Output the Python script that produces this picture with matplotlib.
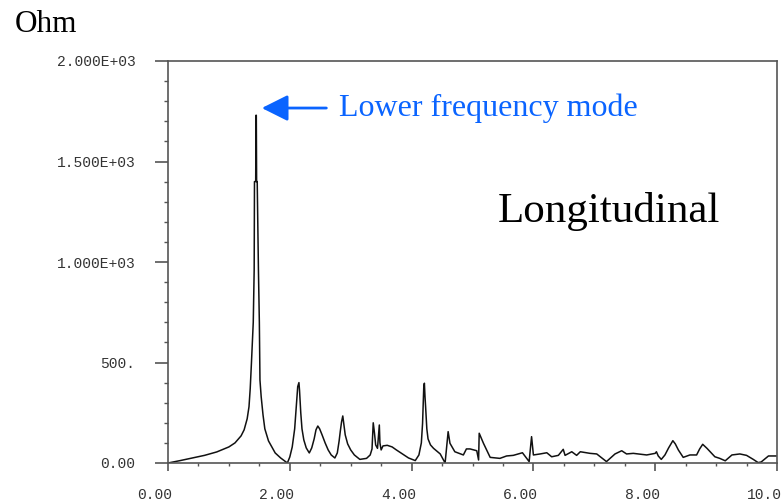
"""Longitudinal impedance spectrum (Ohm vs frequency) with the lowest mode marked."""

import matplotlib

matplotlib.use("Agg")
import matplotlib.pyplot as plt  # noqa: E402
import matplotlib.transforms as mtransforms  # noqa: E402
from matplotlib.ticker import MultipleLocator  # noqa: E402

BLUE = "#0a64ff"
AXIS = "#555555"
MONO = "Liberation Mono"
SERIF = "Liberation Serif"

# traced impedance curve (frequency, Ohm)
freq = [
    0.00, 0.20, 0.40, 0.60, 0.80, 1.00, 1.10, 1.20, 1.25, 1.30, 1.33, 1.35, 1.37, 1.40,
    1.415, 1.42, 1.44, 1.445, 1.45, 1.455, 1.465, 1.485, 1.50, 1.51, 1.53, 1.56, 1.59,
    1.65, 1.76, 1.85, 1.96,
    2.00, 2.04, 2.08, 2.11, 2.13, 2.15, 2.16, 2.18, 2.20, 2.23, 2.27, 2.32,
    2.36, 2.40, 2.43, 2.46, 2.49, 2.53, 2.58, 2.63, 2.68, 2.74,
    2.78, 2.81, 2.83, 2.85, 2.87, 2.88, 2.91, 2.95, 3.00, 3.06, 3.15, 3.26, 3.32, 3.35,
    3.37, 3.39, 3.41, 3.44, 3.47, 3.48, 3.50, 3.53, 3.60, 3.68, 3.75, 3.85, 3.95, 4.06,
    4.12, 4.16, 4.18, 4.20, 4.21, 4.22, 4.23, 4.25, 4.27, 4.31, 4.36, 4.47, 4.55,
    4.60, 4.63, 4.71, 4.85, 4.90, 4.96, 5.07, 5.10, 5.11, 5.18, 5.29, 5.45, 5.56, 5.67,
    5.82, 5.93, 5.97, 6.00, 6.11, 6.22, 6.30, 6.41, 6.49, 6.52, 6.63, 6.71, 6.77, 6.93,
    7.04, 7.20, 7.34, 7.45, 7.53, 7.64, 7.86, 8.00, 8.02, 8.05, 8.10, 8.16, 8.22, 8.29,
    8.33, 8.38, 8.46, 8.57, 8.68, 8.73, 8.78, 8.85, 8.98, 9.06, 9.15, 9.26, 9.39, 9.50,
    9.61, 9.69, 9.74, 9.86, 10.00,
]
ohm = [
    0, 12, 25, 38, 55, 80, 100, 135, 165, 220, 280, 370, 497, 700,
    960, 1400, 1400, 1730, 1730, 1400, 1400, 960, 700, 413, 330, 240, 170,
    110, 50, 25, 0,
    30, 80, 170, 300, 380, 400, 360, 250, 170, 115, 75, 50,
    75, 120, 165, 184, 170, 140, 100, 65, 40, 25,
    50, 110, 160, 205, 234, 210, 140, 95, 65, 40, 18, 23, 40, 70,
    200, 150, 90, 73, 189, 100, 65, 85, 88, 80, 65, 45, 25, 12,
    40, 100, 197, 380, 397, 330, 280, 170, 120, 90, 73, 45, 0,
    156, 98, 56, 40, 70, 70, 61, 15, 148, 98, 28, 23, 35, 38,
    51, 7, 131, 40, 45, 51, 31, 38, 68, 38, 56, 38, 56, 48,
    45, 7, 45, 61, 45, 48, 40, 48, 56, 35, 18, 40, 75, 111,
    95, 65, 28, 40, 40, 70, 93, 73, 31, 23, 11, 40, 45, 38,
    18, 2, 5, 35, 35,
]

y_ticks = [0, 500, 1000, 1500, 2000]
y_labels = ["0.00", "500.", "1.000E+03", "1.500E+03", "2.000E+03"]
x_ticks = [0, 2, 4, 6, 8, 10]
x_labels = ["0.00", "2.00", "4.00", "6.00", "8.00", "10.0"]

fig = plt.figure(figsize=(7.83, 5.03), dpi=100)
ax = fig.add_axes([168 / 783, 40 / 503, 609 / 783, 402 / 503])

ax.plot(freq, ohm, color="#111111", lw=1.1)
ax.set_xlim(0, 10)
ax.set_ylim(0, 2000)

for side in ax.spines.values():
    side.set_color(AXIS)
    side.set_linewidth(1.2)

ax.yaxis.set_minor_locator(MultipleLocator(100))
ax.xaxis.set_minor_locator(MultipleLocator(0.5))
ax.set_yticks(y_ticks)
ax.set_yticklabels(y_labels, fontfamily=MONO, fontsize=10.5, color="#333333")
ax.tick_params(axis="y", which="major", direction="out", length=9.5, width=1.2, color=AXIS, pad=14)
ax.tick_params(axis="y", which="minor", direction="out", length=3, width=1.0, color=AXIS)
ax.set_xticks(x_ticks)
ax.set_xticklabels([])
ax.tick_params(axis="x", which="major", direction="out", length=6, width=1.2, color=AXIS)
ax.tick_params(axis="x", which="minor", direction="out", length=2.5, width=1.0, color=AXIS)

# x labels sit a little left of their ticks in the original
shift = mtransforms.ScaledTranslation(-13 / 100, -32 / 100, fig.dpi_scale_trans)
for pos, lab in zip(x_ticks, x_labels):
    ax.text(pos, 0, lab, transform=ax.get_xaxis_transform() + shift, ha="center", va="center",
            fontfamily=MONO, fontsize=10.5, color="#333333", clip_on=False)

fig.text(15 / 783, 1 - 32 / 503, "Ohm", fontfamily=SERIF, fontsize=22.5, va="baseline")

ax.annotate("", xy=(1.54, 1766), xytext=(2.60, 1766),
            arrowprops=dict(arrowstyle="-|>,head_length=1.0,head_width=0.5", color=BLUE,
                            lw=2, mutation_scale=16, shrinkA=0, shrinkB=0))
ax.text(2.81, 1766, "Lower frequency mode", color=BLUE, fontfamily=SERIF, fontsize=23,
        va="center", ha="left")
ax.text(5.42, 1249, "Longitudinal", fontfamily=SERIF, fontsize=31, va="center", ha="left")

fig.savefig("out.png", dpi=100)
